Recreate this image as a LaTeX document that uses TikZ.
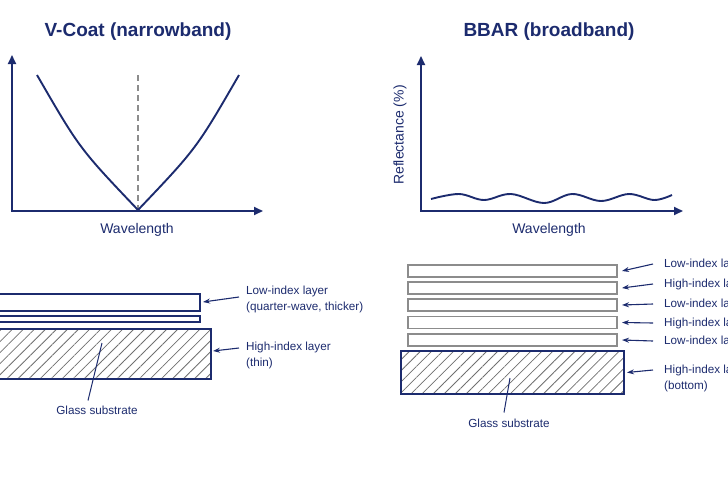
\documentclass[tikz,border=0pt]{standalone}
\usepackage{fontspec}
\setmainfont{Liberation Sans}
\usetikzlibrary{arrows.meta,patterns.meta}
\definecolor{navy}{HTML}{1C2B6E}
\definecolor{rule}{HTML}{8C8C8C}
\definecolor{hatch}{HTML}{707070}

\begin{document}
\begin{tikzpicture}[x=1pt, y=-1pt,
    axisline/.style={{Triangle[length=9pt,width=8pt]}-{Triangle[length=9pt,width=8pt]}, line width=1.8pt, navy},
    trace/.style={line width=1.9pt, navy},
    heading/.style={font=\fontsize{19}{23}\selectfont\bfseries, text=navy},
    axlbl/.style={font=\fontsize{14}{17}\selectfont, text=navy},
    lbl/.style={font=\fontsize{11.7}{16}\selectfont, text=navy, align=left, anchor=west, inner sep=0pt},
    film/.style={draw=navy, line width=1.3pt, fill=white, inner sep=0pt, outer sep=0pt},
    filmR/.style={draw=rule, line width=1.1pt, fill=white, inner sep=0pt, outer sep=0pt,
                  minimum width=209pt, minimum height=12pt},
    glass/.style={draw=navy, line width=1.5pt, inner sep=0pt, outer sep=0pt,
                  pattern={Lines[angle=45,distance=7.8pt,line width=0.8pt]}, pattern color=hatch},
    arr/.style={-{Stealth[length=7pt,width=5pt]}, line width=1.1pt, navy},
    lead/.style={line width=1pt, navy}
  ]
  \useasboundingbox (0,0) rectangle (728,485);
  \clip (0,0) rectangle (728,485);

  % V-coat response
  \node[heading] (vtitle) at (138,32) {V-Coat (narrowband)};
  \coordinate (o1) at (12,211);
  \coordinate (ytip1) at (12,55);
  \coordinate (xtip1) at (263,211);
  \draw[axisline] (ytip1) -- (o1) -- (xtip1);
  \coordinate (vmin) at (138,210);
  \draw[rule, line width=1.2pt, dash pattern=on 6pt off 4pt] (138,75) -- (vmin);
  \draw[trace] (37,75) .. controls (79.5,148.5) .. (vmin) .. controls (196.5,148.5) .. (239,75);
  \node[axlbl] (wl1) at (137,230) {Wavelength};

  % BBAR response
  \node[heading] (btitle) at (549,32) {BBAR (broadband)};
  \coordinate (o2) at (421,211);
  \coordinate (ytip2) at (421,56);
  \coordinate (xtip2) at (683,211);
  \draw[axisline] (ytip2) -- (o2) -- (xtip2);
  \draw[trace] plot[smooth, tension=0.6] coordinates {(431,199) (459,194) (484,200) (511,194)
    (544,203) (572,194) (601,201) (629,194) (654,200) (672,195)};
  \node[axlbl] (wl2) at (549,230) {Wavelength};
  \node[axlbl, rotate=90] (refl) at (400,135) {Reflectance (\%)};

  % V-coat stack
  \node[film, minimum width=205pt, minimum height=17pt] (low1) at (97.5,302.5) {};
  \node[film, minimum width=205pt, minimum height=6pt] (high1) at (97.5,319) {};
  \node[glass, minimum width=216pt, minimum height=50pt] (sub1) at (103,354) {};
  \node[lbl] (lowlbl) at (246,299.5) {Low-index layer\\(quarter-wave, thicker)};
  \node[lbl] (highlbl) at (246,355) {High-index layer\\(thin)};
  \draw[arr] ([xshift=-7pt,yshift=2.5pt]lowlbl.west) -- ([xshift=3pt,yshift=0.5pt]low1.east);
  \draw[arr] ([xshift=-7pt,yshift=7pt]highlbl.west) -- ([xshift=2pt,yshift=3pt]sub1.east);
  \node[lbl, anchor=center] (glasslbl1) at (97,410) {Glass substrate};
  \draw[lead] ([xshift=-9pt,yshift=5pt]glasslbl1.north) -- ([xshift=-1pt,yshift=11pt]sub1.center);

  % BBAR stack
  \foreach \i/\yc/\kind/\ly in {1/271/Low/264, 2/288/High/284, 3/305/Low/304, 4/322.5/High/323, 5/340/Low/341} {
    \node[filmR] (r\i) at (512.5,\yc) {};
    \node[lbl] (rl\i) at (664,\ly) {\kind-index layer};
    \draw[arr] ([xshift=-11pt]rl\i.west) -- ([xshift=5pt]r\i.east);
  }
  \node[glass, minimum width=223pt, minimum height=43pt] (sub2) at (512.5,372.5) {};
  \node[lbl] (rl6) at (664,378) {High-index layer\\(bottom)};
  \draw[arr] ([xshift=-11pt,yshift=8pt]rl6.west) -- ([xshift=3pt]sub2.east);
  \node[lbl, anchor=center] (glasslbl2) at (509,423) {Glass substrate};
  \draw[lead] ([xshift=-5pt,yshift=6pt]glasslbl2.north) -- ([xshift=-2.5pt,yshift=-5.5pt]sub2.center);
\end{tikzpicture}
\end{document}
